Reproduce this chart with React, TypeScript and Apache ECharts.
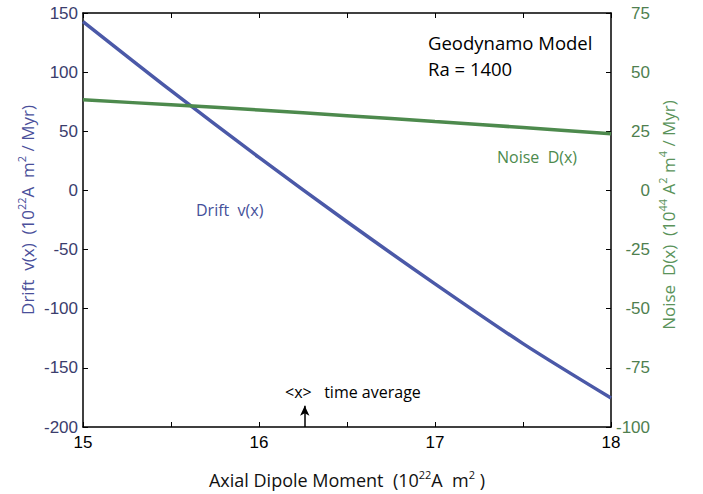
import React, { useEffect, useRef } from 'react';
import * as echarts from 'echarts';

// Axial dipole moment (10^22 A m^2)
const xValues = [15, 15.5, 16, 16.5, 17, 17.5, 18];
// Drift v(x) (10^22 A m^2 / Myr) - left axis
const driftValues = [142.7, 84.3, 27.9, -26.5, -79, -129.5, -175.5];
// Noise D(x) (10^44 A^2 m^4 / Myr) - right axis
const noiseValues = [38.3, 36.2, 34, 31.6, 29.1, 26.6, 24];

const xRange = [15, 18];
const leftRange = [-200, 150];
const rightRange = [-100, 75];
const timeAverage = 16.26;
const arrowTop = -182;

const BLUE = '#4b59a8';
const GREEN = '#4d8a4d';
const LEFT_LABEL = '#3b3d6d';
const RIGHT_LABEL = '#4f7f4f';
const FONT = 'Open Sans';
const NUMFONT = 'Liberation Sans';

export default function App() {
  const ref = useRef<HTMLDivElement>(null);
  useEffect(() => {
    if (!ref.current) return;
    const chart = echarts.init(ref.current, undefined, { renderer: 'svg' });
    const supAxis = (color: string) => ({
      a: { fontSize: 18, fontFamily: FONT, color, lineHeight: 22 },
      s: { fontSize: 11, fontFamily: FONT, color, lineHeight: 12, verticalAlign: 'top' },
    });
    const supGraphic = (fill: string) => ({
      a: { fontSize: 17, fontFamily: FONT, fill, lineHeight: 22 },
      s: { fontSize: 11, fontFamily: FONT, fill, lineHeight: 12, verticalAlign: 'top' },
    });
    const tickCommon = { show: true, inside: true, length: 5, lineStyle: { color: '#000', width: 1 } };
    const lineCommon = { show: true, onZero: false, lineStyle: { color: '#000', width: 1.5 } };
    chart.setOption({
      animation: false,
      backgroundColor: '#fff',
      grid: { left: 83, right: 92, top: 13, bottom: 66, containLabel: false },
      xAxis: [
        {
          type: 'value', position: 'bottom', min: xRange[0], max: xRange[1], interval: 0.5,
          axisLine: lineCommon, axisTick: tickCommon, splitLine: { show: false },
          axisLabel: {
            color: '#000', fontSize: 17, fontFamily: NUMFONT, margin: 7,
            formatter: (v: number) => (Number.isInteger(v) ? String(v) : ''),
          },
          name: '{a|Axial Dipole Moment  (10}{s|22}{a|A  m}{s|2}{a| )}',
          nameLocation: 'middle', nameGap: 42,
          nameTextStyle: { rich: supAxis('#111') },
        },
        {
          type: 'value', position: 'top', min: xRange[0], max: xRange[1], interval: 0.5,
          axisLine: lineCommon, axisTick: tickCommon, splitLine: { show: false },
          axisLabel: { show: false },
        },
      ],
      yAxis: [
        {
          type: 'value', position: 'left', min: leftRange[0], max: leftRange[1], interval: 50,
          axisLine: lineCommon, axisTick: tickCommon, splitLine: { show: false },
          axisLabel: { color: LEFT_LABEL, fontSize: 17, fontFamily: NUMFONT, margin: 5 },
        },
        {
          type: 'value', position: 'right', min: rightRange[0], max: rightRange[1], interval: 25,
          axisLine: lineCommon, axisTick: tickCommon, splitLine: { show: false },
          axisLabel: { color: RIGHT_LABEL, fontSize: 17, fontFamily: NUMFONT, margin: 39, align: 'right' },
        },
      ],
      series: [
        {
          name: 'Drift v(x)', type: 'line', xAxisIndex: 0, yAxisIndex: 0,
          data: xValues.map((x, i) => [x, driftValues[i]]),
          smooth: 0.3, showSymbol: false, lineStyle: { color: BLUE, width: 3.5 },
          markLine: {
            silent: true, symbol: ['none', 'arrow'], symbolSize: [7, 10],
            lineStyle: { color: '#000', width: 1.5, type: 'solid' }, label: { show: false },
            data: [[{ coord: [timeAverage, leftRange[0]] }, { coord: [timeAverage, arrowTop] }]],
          },
        },
        {
          name: 'Noise D(x)', type: 'line', xAxisIndex: 0, yAxisIndex: 1,
          data: xValues.map((x, i) => [x, noiseValues[i]]),
          smooth: 0.3, showSymbol: false, lineStyle: { color: GREEN, width: 3.5 },
        },
      ],
      graphic: [
        { type: 'text', x: 428, y: 42, style: { text: 'Geodynamo Model', fontSize: 18.5, fontFamily: FONT, fill: '#000', verticalAlign: 'middle' } },
        { type: 'text', x: 428, y: 68, style: { text: 'Ra = 1400', fontSize: 18.5, fontFamily: FONT, fill: '#000', verticalAlign: 'middle' } },
        { type: 'text', x: 497, y: 157, style: { text: 'Noise  D(x)', fontSize: 16, fontFamily: FONT, fill: GREEN, verticalAlign: 'middle' } },
        { type: 'text', x: 196, y: 210, style: { text: 'Drift  v(x)', fontSize: 16, fontFamily: FONT, fill: '#45509a', verticalAlign: 'middle' } },
        { type: 'text', x: 285, y: 392, style: { text: '<x>   time average', fontSize: 16, fontFamily: FONT, fill: '#000', verticalAlign: 'middle' } },
        {
          type: 'text', x: 27, y: 210, rotation: Math.PI / 2,
          style: {
            text: '{a|Drift  v(x)  (10}{s|22}{a|A  m}{s|2}{a| / Myr)}', rich: supGraphic('#4a4f9a'),
            align: 'center', verticalAlign: 'middle',
          },
        },
        {
          type: 'text', x: 668, y: 215, rotation: Math.PI / 2,
          style: {
            text: '{a|Noise  D(x)  (10}{s|44}{a| A}{s|2}{a| m}{s|4}{a| / Myr)}', rich: supGraphic('#5a935a'),
            align: 'center', verticalAlign: 'middle',
          },
        },
      ],
    });
    return () => chart.dispose();
  }, []);
  return <div ref={ref} style={{ position: 'fixed', left: 0, top: 0, width: 703, height: 494 }} />;
}
